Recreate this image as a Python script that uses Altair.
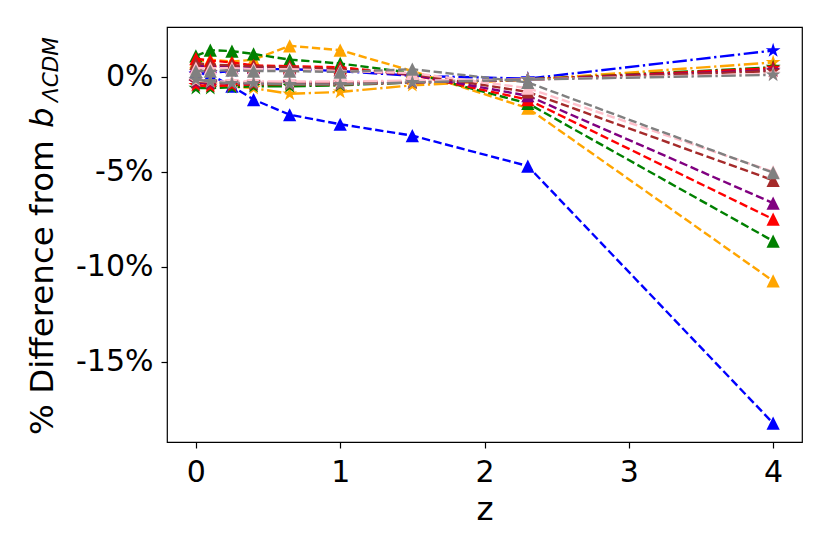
import altair as alt
import pandas as pd

z = [0, 0.1, 0.25, 0.4, 0.65, 1, 1.5, 2.3, 4]
colors = ["blue", "orange", "green", "red", "purple", "brown", "pink", "gray"]

# dashed lines with triangle markers (% difference)
tri_blue = [0.2, 0.1, -0.5, -1.2, -2.0, -2.5, -3.1, -4.7, -18.24]
tri_orange = [0.8, 0.9, 0.8, 0.9, 1.63, 1.4, 0.3, -1.65, -10.75]
tri_green = [1.1, 1.4, 1.35, 1.2, 0.9, 0.7, 0.2, -1.4, -8.65]
tri_red = [0.95, 0.85, 0.75, 0.6, 0.55, 0.5, 0.1, -1.2, -7.5]
tri_purple = [0.55, 0.55, 0.5, 0.5, 0.45, 0.35, 0.1, -1.0, -6.65]
tri_brown = [0.7, 0.65, 0.6, 0.55, 0.5, 0.4, 0.15, -0.8, -5.45]
tri_pink = [0.45, 0.45, 0.45, 0.4, 0.4, 0.3, 0.2, -0.6, -5.0]
tri_gray = [0.3, 0.3, 0.35, 0.3, 0.3, 0.25, 0.4, -0.3, -5.05]

# dash-dot lines with star markers (% difference)
star_blue = [0.15, 0.2, 0.3, 0.4, 0.4, 0.3, 0.05, -0.1, 1.38]
star_orange = [-0.3, -0.4, -0.5, -0.6, -0.9, -0.8, -0.45, -0.15, 0.75]
star_green = [-0.6, -0.6, -0.55, -0.5, -0.5, -0.45, -0.3, -0.15, 0.5]
star_red = [-0.45, -0.5, -0.45, -0.4, -0.4, -0.4, -0.3, -0.15, 0.45]
star_purple = [-0.3, -0.35, -0.35, -0.35, -0.35, -0.35, -0.3, -0.15, 0.35]
star_brown = [-0.25, -0.3, -0.3, -0.3, -0.3, -0.3, -0.25, -0.15, 0.3]
star_pink = [-0.2, -0.25, -0.25, -0.25, -0.25, -0.25, -0.2, -0.15, 0.15]
star_gray = [-0.15, -0.25, -0.35, -0.35, -0.4, -0.4, -0.3, -0.15, 0.1]

x_ticks = [0, 1, 2, 3, 4]
y_ticks = [0, -5, -10, -15]

tri = dict(zip(colors, [tri_blue, tri_orange, tri_green, tri_red, tri_purple, tri_brown, tri_pink, tri_gray]))
star = dict(zip(colors, [star_blue, star_orange, star_green, star_red, star_purple, star_brown, star_pink, star_gray]))

rows = []
order = []
for ci, c in enumerate(colors):
    for kind, d in (("tri", tri), ("star", star)):
        sid = f"{ci:02d}_{kind}"
        order.append((sid, kind))
        for zi, v in zip(z, d[c]):
            rows.append(dict(z=zi, pct=v, color=c, kind=kind, sid=sid))
df = pd.DataFrame(rows)

TRI_PATH = "M0,-1L-1,1L1,1Z"
STAR_PATH = ("M0,-1L0.2245,-0.309L0.951,-0.309L0.3633,0.118L0.588,0.809L0,0.382"
             "L-0.588,0.809L-0.3633,0.118L-0.951,-0.309L-0.2245,-0.309Z")

X = alt.X("z:Q", scale=alt.Scale(domain=[-0.2, 4.2], nice=False, zero=False),
          axis=alt.Axis(values=x_ticks, title="z", titleY=77, titleBaseline="alphabetic",
                        titleFontSize=32.5, titleFontWeight="normal", titleFont="DejaVu Sans",
                        titleColor="black", labelPadding=9, format="d"))
Y = alt.Y("pct:Q", scale=alt.Scale(domain=[-19.23, 2.62], nice=False, zero=False),
          axis=alt.Axis(values=y_ticks, title=None, labelExpr="datum.value + '%'", labelPadding=8))
C = alt.Color("color:N", scale=None, legend=None)

base = alt.Chart(df)
layers = []
for sid, kind in order:
    sub = base.transform_filter(alt.datum.sid == sid)
    dash = [8.3, 3.6] if kind == "tri" else [14.4, 3.6, 2.3, 3.6]
    layers.append(sub.mark_line(strokeDash=dash, strokeWidth=2.4).encode(x=X, y=Y, color=C))
    shape = TRI_PATH if kind == "tri" else STAR_PATH
    size = 175 if kind == "tri" else 240
    layers.append(sub.mark_point(shape=shape, filled=True, size=size, opacity=1, strokeWidth=0)
                  .encode(x=X, y=Y, color=C))

t1 = alt.Chart(pd.DataFrame({"t": ["% Difference from"]})).mark_text(
    angle=270, align="left", baseline="alphabetic", font="DejaVu Sans", fontSize=32.5,
    color="black", x=-114, y=408).encode(text="t:N")
t2 = alt.Chart(pd.DataFrame({"t": ["b"]})).mark_text(
    angle=270, align="left", baseline="alphabetic", font="DejaVu Sans", fontStyle="italic",
    fontSize=32.5, color="black", x=-114, y=101).encode(text="t:N")
t3 = alt.Chart(pd.DataFrame({"t": ["ΛCDM"]})).mark_text(
    angle=270, align="left", baseline="alphabetic", font="DejaVu Sans", fontStyle="italic",
    fontSize=21.5, color="black", x=-109, y=75).encode(text="t:N")

chart = alt.layer(*layers, t1, t2, t3).properties(
    width=635, height=415,
    background="white",
    autosize=alt.AutoSizeParams(type="none"),
    padding={"left": 159, "top": 19, "right": 20, "bottom": 104},
).configure_view(stroke="black", strokeWidth=1.2).configure_axis(
    domain=False, grid=False, ticks=True, tickColor="black", tickWidth=1.2, tickSize=6,
    labelFont="DejaVu Sans", labelFontSize=30, labelColor="black",
)

chart.save("out.html", embed_options={"renderer": "svg", "actions": False})
